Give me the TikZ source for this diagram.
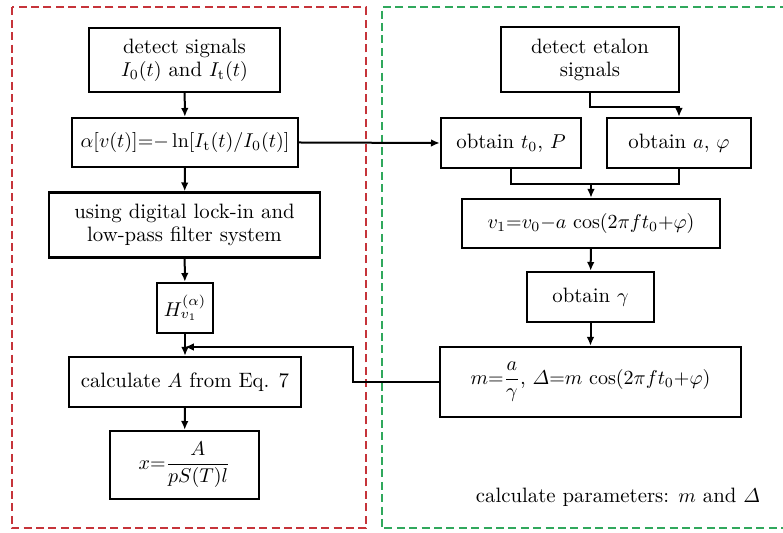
\documentclass[tikz,border=0pt]{standalone}
\usepackage{amsmath}
\usepackage{tikz}
\usetikzlibrary{arrows.meta}
\definecolor{frmred}{RGB}{198,52,58}
\definecolor{frmgreen}{RGB}{48,168,92}

\begin{document}
\begin{tikzpicture}[x=0.5pt,y=-0.5pt,
    blk/.style={draw,line width=1.2pt,rectangle,align=center,inner sep=1pt,
      font=\fontsize{10.4}{11.5}\selectfont},
    frm/.style={dashed,line width=1pt,dash pattern=on 4pt off 2.2pt},
    arr/.style={line width=1pt,-{Latex[length=4.4pt,width=3.8pt]}},
    ln/.style={line width=1pt}]
  \useasboundingbox (0,0) rectangle (783,533);
  \draw[frm,frmred] (11.5,7.5) rectangle (366,528.5);
  \draw[frm,frmgreen] (800,7.5) -- (381.5,7.5) -- (381.5,528.5) -- (800,528.5);

  \node[blk,minimum width=95.5pt,minimum height=32pt] (det) at (184.5,60)
    {detect signals\\$I_0(t)$ and $I_{\mathrm{t}}(t)$};
  \node[blk,minimum width=113pt,minimum height=24.5pt] (alp) at (185,142.5)
    {$\alpha[v(t)]{=}{-}\ln[I_{\mathrm{t}}(t)/I_0(t)]$};
  \node[blk,minimum width=135.5pt,minimum height=32.5pt] (lock) at (184.5,225)
    {using digital lock-in and\\low-pass filter system};
  \node[blk,minimum width=28pt,minimum height=25pt] (H) at (185,308)
    {$H^{(\alpha)}_{v_1}$};
  \node[blk,minimum width=116pt,minimum height=25pt] (cA) at (185,382)
    {calculate $A$ from Eq. 7};
  \node[blk,minimum width=74.5pt,minimum height=34pt] (xe) at (184.5,465)
    {$x{=}\dfrac{A}{pS(T)l}$};

  \node[blk,minimum width=89pt,minimum height=32.5pt] (eta) at (590,59.5)
    {detect etalon\\signals};
  \node[blk,minimum width=70pt,minimum height=25pt] (t0P) at (511,143)
    {obtain $t_0$, $P$};
  \node[blk,minimum width=72pt,minimum height=25pt] (aphi) at (679,143)
    {obtain $a$, $\varphi$};
  \node[blk,minimum width=129pt,minimum height=24.5pt] (v1) at (591,223.5)
    {$v_1{=}v_0{-}a\,\cos(2\pi ft_0{+}\varphi)$};
  \node[blk,minimum width=63.5pt,minimum height=25pt] (gam) at (590.5,297)
    {obtain $\gamma$};
  \node[blk,minimum width=150.5pt,minimum height=35pt] (mD) at (590.5,382)
    {$m{=}\dfrac{a}{\gamma}$, $\varDelta{=}m\,\cos(2\pi ft_0{+}\varphi)$};
  \node[font=\fontsize{10.4}{11.5}\selectfont] (par) at (618,497)
    {calculate parameters: $m$ and $\varDelta$};

  \coordinate (mrg) at (591,184);
  \coordinate (fb) at (185,347);
  \coordinate (bend) at (353,382);

  \draw[arr] (det) -- (alp);
  \draw[arr] (alp) -- (lock);
  \draw[arr] (lock) -- (H);
  \draw[arr] (H) -- (cA);
  \draw[arr] (cA) -- (xe);
  \draw[arr] (alp.east) -- (t0P.west);
  \draw[arr] (eta.south) -- ++(0,14) -| (aphi.north);
  \draw[ln] (t0P.south) |- (aphi.south |- mrg) -- (aphi.south);
  \draw[arr] (mrg) -- (v1.north);
  \draw[arr] (v1) -- (gam);
  \draw[arr] (gam) -- (mD);
  \draw[arr] (mD.west) -- (bend) |- (fb);
\end{tikzpicture}
\end{document}
